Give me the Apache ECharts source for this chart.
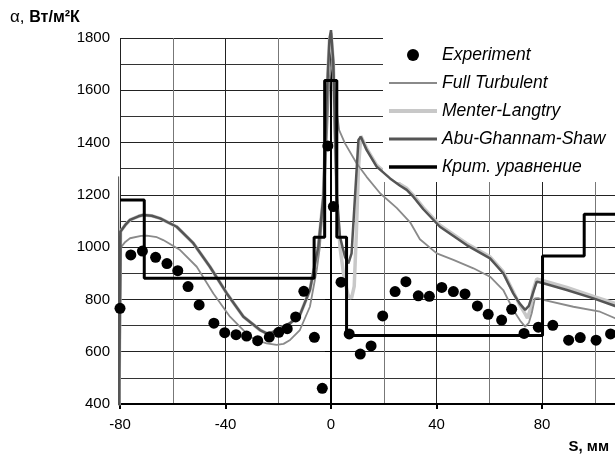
<!DOCTYPE html>
<html>
<head>
<meta charset="utf-8">
<script src="https://cdn.jsdelivr.net/npm/echarts@6/dist/echarts.min.js"></script>
<style>
  html, body { margin: 0; padding: 0; background: #fff; }
  #chart { width: 615px; height: 462px; }
</style>
</head>
<body>
<div id="chart"></div>
<script>
// Experiment points
var expX = [-80.0, -75.9, -71.5, -66.5, -62.2, -58.1, -54.2, -50.0, -44.4, -40.3,
  -36.0, -32.0, -27.8, -23.4, -19.8, -16.6, -13.4, -10.3, -6.3, -3.3,
  -1.2, 0.9, 3.8, 6.9, 11.1, 15.2, 19.6, 24.3, 28.4, 33.1,
  37.3, 42.0, 46.4, 50.8, 55.5, 59.6, 64.7, 68.5, 73.2, 78.6,
  84.1, 90.1, 94.5, 100.5, 106.0];
var expY = [766, 970, 985, 961, 937, 910, 849, 779, 709, 673,
  665, 660, 642, 656, 674, 688, 733, 831, 655, 460,
  1387, 1155, 866, 668, 591, 622, 737, 830, 868, 814,
  812, 846, 830, 821, 775, 743, 721, 762, 670, 694,
  701, 644, 654, 644, 668];

// Full Turbulent
var ftX = [-80.2, -79.6, -78, -76.2, -72, -69.9, -66, -63.6, -57.2, -50.9,
  -44.6, -38.3, -34, -30.7, -27, -24.4, -20.6, -18, -15.5, -11.8,
  -8, -5.4, -4.2, -2.3, -0.6, 0.3, 1.5, 3.1, 5.3, 9.7,
  13.5, 18.6, 24.9, 30, 33.7, 40.1, 46.4, 54, 60.3, 65.3,
  69.1, 72, 73.6, 75, 76.1, 77.3, 78.5, 80.5, 91.9, 102, 107.7, 120];
var ftY = [395, 1000, 1020, 1034, 1043, 1044, 1038, 1027, 989, 925,
  823, 734, 690, 657, 640, 632, 626, 630, 645, 683,
  772, 913, 1002, 1257, 1639, 1716, 1575, 1448, 1397, 1321,
  1269, 1206, 1150, 1095, 1030, 976, 951, 919, 887, 836,
  760, 715, 696, 710, 747, 804, 805, 798, 772, 753, 728, 700];

// Menter-Langtry
var mlX = [-81.4, -80.9, -80.4, -79.8, -78, -76.2, -73, -71.2, -68, -64.8,
  -58.5, -52.2, -45.9, -39.5, -33.2, -29, -26.9, -24.4, -22, -20.6,
  -15.5, -11.8, -8, -4.8, -2.9, -1.6, -0.6, 0, 0.9, 1.5,
  2.2, 3.4, 5, 6.5, 7.8, 8.8, 9.6, 10.4, 11.3, 13.5,
  17.3, 22.4, 26.2, 28.7, 31.2, 35, 41.3, 51.4, 60.3, 65.3,
  69.1, 71.5, 73.6, 74.5, 75.5, 76.5, 78, 80.5, 89.4, 99.5, 107.7, 120];
var mlY = [390, 1270, 395, 1060, 1085, 1104, 1118, 1123, 1120, 1110,
  1078, 1015, 925, 823, 734, 700, 683, 670, 675, 683,
  709, 740, 836, 1002, 1193, 1575, 1792, 1820, 1703, 1448,
  1193, 1000, 880, 815, 805, 850, 1050, 1300, 1425, 1378,
  1314, 1269, 1241, 1225, 1199, 1151, 1084, 1014, 963, 906,
  829, 780, 745, 728, 760, 830, 878, 872, 846, 812, 785, 752];

// Abu-Ghannam-Shaw
var agsX = [-81.4, -80.9, -80.4, -79.8, -78, -76.2, -73, -71.2, -68, -64.8,
  -58.5, -52.2, -45.9, -39.5, -33.2, -29, -26.9, -24.4, -22, -20.6,
  -15.5, -11.8, -8, -4.8, -2.9, -1.6, -0.6, 0, 0.9, 1.5,
  2.2, 3.4, 5.3, 6.6, 7.8, 9.1, 10.4, 11.3, 13.5, 17.3,
  22.4, 26.2, 28.7, 31.2, 35, 41.3, 51.4, 60.3, 65.3, 69.1,
  71.5, 73.6, 75, 76.1, 78, 80.5, 89.4, 99.5, 107.7, 120];
var agsY = [390, 1270, 395, 1060, 1085, 1104, 1118, 1123, 1120, 1110,
  1078, 1015, 925, 823, 734, 700, 683, 670, 675, 683,
  709, 740, 836, 1002, 1193, 1575, 1792, 1830, 1703, 1448,
  1193, 1040, 963, 938, 976, 1193, 1410, 1422, 1372, 1308,
  1263, 1235, 1219, 1193, 1145, 1078, 1008, 957, 900, 823,
  785, 760, 775, 810, 868, 862, 836, 804, 775, 745];

// Крит. уравнение (step)
var critX = [-80, -70.8, -70.8, -6.4, -6.4, -2.4, -2.4, 2.2, 2.2, 5.9,
  5.9, 80.2, 80.2, 96, 96, 120];
var critY = [1180, 1180, 881, 881, 1038, 1038, 1637, 1637, 1038, 1038,
  662, 662, 966, 966, 1126, 1126];

function pairs(xs, ys) {
  return xs.map(function (x, i) { return [x, ys[i]]; });
}

var font = 'Liberation Sans, Arial, sans-serif';
var chart = echarts.init(document.getElementById('chart'));

function legendLine(name, w) {
  return { name: name, itemStyle: { opacity: 0 }, lineStyle: { width: w } };
}

var option = {
  animation: false,
  backgroundColor: '#fff',
  grid: { left: 120, top: 38, width: 527.5, bottom: 58, outerBoundsMode: 'none' },
  legend: {
    orient: 'vertical',
    left: 383,
    top: 38,
    backgroundColor: '#fff',
    padding: [8, 20, 6, 4],
    itemWidth: 48,
    itemHeight: 12,
    itemGap: 10,
    textStyle: { fontStyle: 'italic', fontSize: 17.5, lineHeight: 16, fontFamily: font, color: '#000' },
    data: [
      { name: 'Experiment' },
      legendLine('Full Turbulent', 2),
      legendLine('Menter-Langtry', 4),
      legendLine('Abu-Ghannam-Shaw', 3),
      legendLine('Крит. уравнение', 3.5)
    ]
  },
  xAxis: {
    type: 'value',
    min: -80,
    max: 120,
    interval: 40,
    axisLine: { lineStyle: { color: '#000', width: 2 } },
    axisTick: { show: true, length: 5, lineStyle: { color: '#000', width: 2 } },
    axisLabel: { color: '#000', fontSize: 15, fontFamily: font, margin: 13, showMaxLabel: false,
      formatter: function (v) { return String(v); } },
    splitLine: { show: true, lineStyle: { color: '#222', width: 1 } },
    minorTick: { show: false, splitNumber: 2 },
    minorSplitLine: { show: true, lineStyle: { color: '#777', width: 1 } }
  },
  yAxis: {
    type: 'value',
    min: 400,
    max: 1800,
    interval: 200,
    axisLine: { show: true, lineStyle: { color: '#000', width: 2 } },
    axisTick: { show: true, length: 6, lineStyle: { color: '#000', width: 1 } },
    axisLabel: { color: '#000', fontSize: 15, fontFamily: font, margin: 10,
      formatter: function (v) { return String(v); } },
    splitLine: { show: true, lineStyle: { color: '#222', width: 1 } },
    minorTick: { show: false, splitNumber: 2 },
    minorSplitLine: { show: true, lineStyle: { color: '#333', width: 1 } }
  },
  graphic: [
    {
      type: 'text', left: 10, top: 9,
      style: {
        text: 'α, {b|Вт/м²К}',
        font: '17px ' + font,
        fill: '#000',
        rich: {
          b: { fontWeight: 'bold', fontSize: 16, fontFamily: font }
        }
      }
    },
    {
      type: 'text', right: 6, top: 439,
      style: { text: 'S, мм', font: 'bold 15px ' + font, fill: '#000' }
    }
  ],
  series: [
    {
      name: 'Menter-Langtry', type: 'line', symbol: 'none', clip: false,
      lineStyle: { color: '#c8c8c8', width: 3.5 }, itemStyle: { color: '#c8c8c8' },
      data: pairs(mlX, mlY), z: 2
    },
    {
      name: 'Full Turbulent', type: 'line', symbol: 'none', clip: false,
      lineStyle: { color: '#8a8a8a', width: 1.8 }, itemStyle: { color: '#8a8a8a' },
      data: pairs(ftX, ftY), z: 3
    },
    {
      name: 'Abu-Ghannam-Shaw', type: 'line', symbol: 'none', clip: false,
      lineStyle: { color: '#555', width: 2.5 }, itemStyle: { color: '#555' },
      data: pairs(agsX, agsY), z: 4
    },
    {
      name: 'Крит. уравнение', type: 'line', symbol: 'none', clip: false,
      lineStyle: { color: '#000', width: 3 }, itemStyle: { color: '#000' },
      data: pairs(critX, critY), z: 5
    },
    {
      name: 'Experiment', type: 'scatter', symbol: 'circle', symbolSize: 11, clip: false,
      itemStyle: { color: '#000', opacity: 1 },
      data: pairs(expX, expY), z: 6
    }
  ]
};

chart.setOption(option);
</script>
</body>
</html>
